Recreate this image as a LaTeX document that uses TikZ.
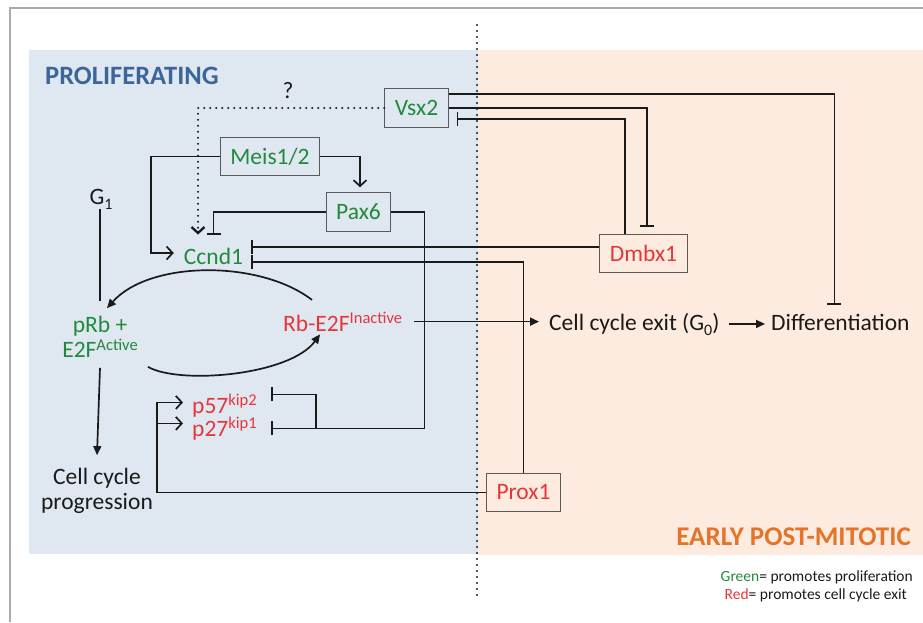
\documentclass[tikz,border=0pt]{standalone}
\usepackage{fontspec}
\setmainfont{Carlito}
\usetikzlibrary{arrows.meta,calc}
\definecolor{ink}{HTML}{1A1A1A}
\definecolor{prolif}{HTML}{23893D}
\definecolor{exitred}{HTML}{E5373A}
\definecolor{bluebg}{HTML}{DFE7F1}
\definecolor{peachbg}{HTML}{FDEBDF}
\definecolor{bluehead}{HTML}{3C6699}
\definecolor{orangehead}{HTML}{E57428}
\definecolor{boxline}{HTML}{5A5A5A}
\definecolor{framegray}{HTML}{ABABAB}
\newcommand{\upt}[1]{\raisebox{7.5pt}{\fontsize{16.5}{16.5}\selectfont #1}}
\newcommand{\dnt}[1]{\raisebox{-5pt}{\fontsize{16}{16}\selectfont #1}}

\begin{document}
\begin{tikzpicture}[x=1pt, y=-1pt, font=\fontsize{23.5}{25}\selectfont,
    box/.style={draw=boxline, line width=1pt, minimum height=38.5pt, inner xsep=10pt, inner ysep=0pt},
    lbl/.style={inner sep=0pt},
    wire/.style={ink, line width=1.7pt},
    barb/.style={wire, -{Straight Barb[length=6pt,width=13pt]}},
    tri/.style={wire, -{Triangle[length=9pt,width=8pt]}},
    inh/.style={wire, -{Bar[width=14pt]}},
    dots/.style={line width=2.3pt, dash pattern=on 0pt off 6pt, line cap=round}]
    \useasboundingbox (0,0) rectangle (923,622);
    % The two zones and the frame.
    \fill[bluebg] (29,50) rectangle (478,554);
    \fill[peachbg] (478,50) rectangle (923,555);
    \draw[framegray, line width=1.4pt] (10,622) -- (10,8) -- (923,8);
    \draw[ink, dots] (477,25) -- (477,596);
    \node[lbl, anchor=west, text=bluehead, font=\fontsize{26.5}{26}\selectfont\bfseries] (prolhead) at (45,76) {PROLIFERATING};
    \node[lbl, anchor=east, text=orangehead, font=\fontsize{27}{26}\selectfont\bfseries] (posthead) at (911,537) {EARLY POST-MITOTIC};
    \node[lbl, anchor=east, text=ink, font=\fontsize{15.5}{15.5}\selectfont] (keygreen) at (913,577) {\textcolor{prolif}{Green}= promotes proliferation};
    \node[lbl, anchor=east, text=ink, font=\fontsize{15.5}{15.5}\selectfont] (keyred) at (907,595) {\textcolor{exitred}{Red}= promotes cell cycle exit};
    % Factors in boxes.
    \node[box, text=prolif] (vsx) at (416.5,108) {Vsx2};
    \node[box, text=prolif] (meis) at (270,156.5) {Meis1/2};
    \node[box, text=prolif] (pax) at (358.5,212) {Pax6};
    \node[box, text=exitred] (dmbx) at (643.5,253.5) {Dmbx1};
    \node[box, text=exitred] (prox) at (523.5,492.5) {Prox1};
    % Cycle states and targets.
    \node[lbl, text=prolif] (ccnd) at (213.5,256) {Ccnd1};
    \node[lbl, text=ink] (g1) at (101,199) {G\dnt{1}};
    \node[lbl, text=prolif, align=center] (prb) at (100,337) {pRb +\\E2F\upt{Active}};
    \node[lbl, text=exitred, anchor=base west] (rbe) at (283,331) {Rb-E2F\upt{Inactive}};
    \node[lbl, text=exitred, anchor=base west] (p57) at (192,413) {p57\upt{kip2}};
    \node[lbl, text=exitred, anchor=base west] (p27) at (192,436) {p27\upt{kip1}};
    \node[lbl, text=ink, align=center] (ccp) at (97,491) {Cell cycle\\progression};
    \node[lbl, text=ink, anchor=base west] (exit) at (549,330) {Cell cycle exit (G\dnt{0})};
    \node[lbl, text=ink, anchor=base west] (diff) at (771,330) {Differentiation};
    \node[lbl, text=ink] (qmark) at (288,91) {?};
    % Inputs to Ccnd1.
    \draw[barb, dots] (vsx.west) -| ([xshift=-15.5pt,yshift=13pt]ccnd.north);
    \draw[barb] (meis.west) -- ++(-69,0) |- ([xshift=-10pt,yshift=3pt]ccnd.west);
    \draw[barb] (meis.east) -| ([xshift=1.5pt,yshift=5pt]pax.north);
    \draw[inh] (pax.west) -| ([yshift=13pt]ccnd.north);
    \draw[inh] ([yshift=6.5pt]dmbx.west) -- ([xshift=8pt,yshift=9pt]ccnd.east);
    \draw[inh] (prox.north) |- ([xshift=8pt,yshift=-6pt]ccnd.east);
    % Pax6 and Prox1 on the kip genes.
    \draw[inh] (pax.east) -- ++(33,0) |- ([xshift=14pt]p27.east);
    \draw[inh] ([xshift=59pt]p27.east) |- ([xshift=14pt,yshift=11pt]p57.east);
    \draw[barb] (prox.west) -| ([xshift=-35pt,yshift=3pt]p57.west) -- ([xshift=-9pt,yshift=3pt]p57.west);
    \draw[barb] ([xshift=-35pt,yshift=5pt]p27.west) -- ([xshift=-9pt,yshift=5pt]p27.west);
    % Vsx2 and Dmbx1.
    \draw[inh] ([yshift=14pt]vsx.east) -| ([xshift=-6pt,yshift=9pt]diff.north);
    \draw[inh] (vsx.east) -| ([xshift=3.5pt,yshift=7pt]dmbx.north);
    \draw[inh] ([xshift=-18.5pt]dmbx.north) |- ([xshift=8pt,yshift=-11pt]vsx.east);
    % The Rb cycle and the way out of it.
    \draw[wire] (g1.south -| prb.north) -- ([yshift=15pt]prb.north);
    \draw[tri] ([xshift=29pt,yshift=12pt]rbe.north west) .. controls +(-52,-40) and +(43,-48) .. ([xshift=7pt,yshift=8pt]prb.north);
    \draw[tri] ([xshift=10pt,yshift=-9pt]prb.south east) .. controls +(32,18) and +(-30,41) .. ([xshift=37pt,yshift=-3pt]rbe.south west);
    \draw[tri] ([yshift=-10pt]prb.south) -- ([yshift=13pt]ccp.north);
    \draw[tri, shorten <=12pt, shorten >=10pt] (rbe.east) -- (rbe.east -| exit.west);
    \draw[tri, shorten <=9pt, shorten >=6pt] (exit.east) -- (exit.east -| diff.west);
  \end{tikzpicture}
\end{document}
